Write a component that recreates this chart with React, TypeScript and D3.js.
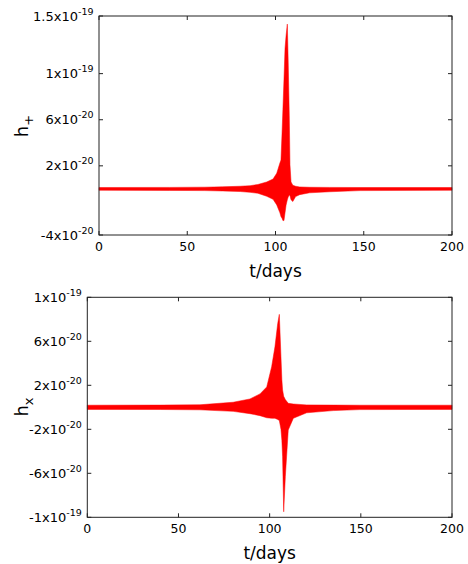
import React from "react";
import * as d3 from "d3";

// Envelope of the h+ signal (units of 1e-21)
const tPlus = [0, 40, 60, 70, 80, 85.6, 90, 95, 98.6, 100.7, 102.5, 103.1, 103.7, 104.2, 104.8, 105.4, 106.0, 106.7, 107.2, 107.8, 108.2, 108.8, 109.8, 111.4, 113.7, 119.3, 130.6, 147.9, 200];
const upperPlus = [1.2, 1.3, 1.5, 1.8, 2.3, 2.8, 3.8, 6.0, 8.5, 13.6, 22.5, 25, 48, 69, 95, 122, 133, 143, 110, 64, 21, 6, 3.2, 2.3, 1.7, 1.4, 1.3, 1.2, 1.2];
const lowerPlus = [-1.2, -1.3, -1.5, -1.8, -2.3, -3.0, -3.8, -6.4, -9, -13.9, -20.8, -24, -25.5, -27.5, -27.5, -20.8, -14, -9.5, -7, -5.2, -6, -9.5, -11, -6.7, -5.0, -3.4, -2.5, -1.5, -1.2];

// Envelope of the hx signal (units of 1e-21)
const tCross = [0, 40, 61.8, 80, 89.2, 94.7, 98.4, 101.1, 102.9, 104.4, 105.3, 106.2, 106.7, 107.1, 107.7, 108.6, 110.2, 113, 120.3, 134.9, 149.5, 200];
const upperCross = [1.9, 2.0, 2.3, 4.6, 7.6, 12.2, 18.5, 36.9, 55, 76, 84.5, 46, 25, 15.7, 10, 7, 3.6, 3, 2.2, 2, 1.9, 1.9];
const lowerCross = [-1.9, -2.0, -2.3, -3.7, -5.8, -7.6, -9.5, -10, -10, -11, -12, -20, -30, -45, -95, -63, -20.6, -10, -5, -3.0, -2.1, -1.9];

const xTicks = [0, 50, 100, 150, 200];
const yTicksPlus = [-40, 20, 60, 100, 150];
const yLabelsPlus = [["-4x10", "-20"], ["2x10", "-20"], ["6x10", "-20"], ["1x10", "-19"], ["1.5x10", "-19"]];
const yTicksCross = [-100, -60, -20, 20, 60, 100];
const yLabelsCross = [["-1x10", "-19"], ["-6x10", "-20"], ["-2x10", "-20"], ["2x10", "-20"], ["6x10", "-20"], ["1x10", "-19"]];

const FONT = "DejaVu Sans, sans-serif";

type PanelProps = {
  left: number; right: number; top: number; bottom: number;
  yDomain: [number, number];
  t: number[]; upper: number[]; lower: number[];
  yTicks: number[]; yLabels: string[][];
  ySub: string; yLabelY: number;
};

function Panel(p: PanelProps) {
  const x = d3.scaleLinear().domain([0, 200]).range([p.left, p.right]);
  const y = d3.scaleLinear().domain(p.yDomain).range([p.bottom, p.top]);
  const idx = d3.range(p.t.length);
  const area = d3.area<number>()
    .x((i) => x(p.t[i]))
    .y0((i) => y(p.lower[i]))
    .y1((i) => y(p.upper[i]))
    .curve(d3.curveLinear);
  const tl = 4;
  return (
    <g>
      <path d={area(idx) || ""} fill="#ff0000" stroke="#ff0000" strokeWidth={0.5} strokeLinejoin="miter" />
      <rect x={p.left} y={p.top} width={p.right - p.left} height={p.bottom - p.top} fill="none" stroke="#222" strokeWidth={1} />
      {xTicks.map((v) => (
        <g key={"x" + v}>
          <line x1={x(v)} x2={x(v)} y1={p.bottom} y2={p.bottom - tl} stroke="#222" />
          <line x1={x(v)} x2={x(v)} y1={p.top} y2={p.top + tl} stroke="#222" />
          <text x={x(v)} y={p.bottom + 15.7} textAnchor="middle" fontFamily={FONT} fontSize={12.5} fill="#000">{v}</text>
        </g>
      ))}
      {p.yTicks.map((v, i) => (
        <g key={"y" + v}>
          <line x1={p.left} x2={p.left + tl} y1={y(v)} y2={y(v)} stroke="#222" />
          <line x1={p.right} x2={p.right - tl} y1={y(v)} y2={y(v)} stroke="#222" />
          <text x={p.left - 5.5} y={y(v) + 4.5} textAnchor="end" fontFamily={FONT} fontSize={13} fill="#000">
            {p.yLabels[i][0]}
            <tspan dy={-6} fontSize={9.5}>{p.yLabels[i][1]}</tspan>
          </text>
        </g>
      ))}
      <text x={(p.left + p.right) / 2} y={p.bottom + 42} textAnchor="middle" fontFamily={FONT} fontSize={17} fill="#000">t/days</text>
      <text transform={`translate(28,${p.yLabelY}) rotate(-90)`} textAnchor="middle" fontFamily={FONT} fontSize={18} fill="#000">
        h<tspan dy={5} fontSize={13}>{p.ySub}</tspan>
      </text>
    </g>
  );
}

export default function App() {
  return (
    <svg width={468} height={564} style={{ position: "absolute", left: 0, top: 0, background: "#fff" }}>
      <Panel left={99} right={452} top={16} bottom={235} yDomain={[-40, 150]}
        t={tPlus} upper={upperPlus} lower={lowerPlus}
        yTicks={yTicksPlus} yLabels={yLabelsPlus} ySub="+" yLabelY={126} />
      <Panel left={87.3} right={452} top={297.3} bottom={517.3} yDomain={[-100, 100]}
        t={tCross} upper={upperCross} lower={lowerCross}
        yTicks={yTicksCross} yLabels={yLabelsCross} ySub="x" yLabelY={407} />
    </svg>
  );
}
